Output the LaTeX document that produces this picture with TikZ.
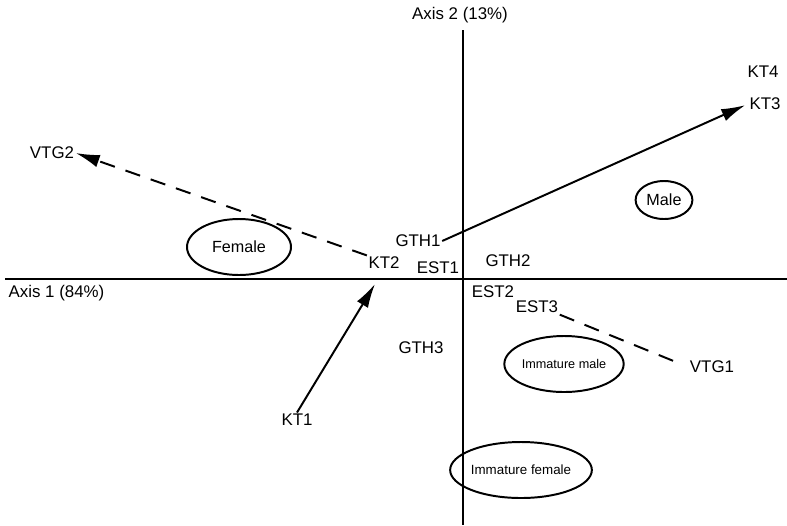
\documentclass[tikz,border=0pt]{standalone}
\usepackage{fontspec}
\setmainfont{Liberation Sans}
\usepackage{tikz}
\usetikzlibrary{arrows.meta,shapes.geometric}

\begin{document}
\begin{tikzpicture}[x=0.25mm, y=-0.25mm, font=\fontsize{12}{14}\selectfont,
    lbl/.style={inner sep=1pt},
    grp/.style={draw, ellipse, line width=1.4pt, inner sep=0pt},
    vec/.style={line width=1.4pt, -{Latex[length=6mm,width=3.2mm]}},
    dvec/.style={vec, dash pattern=on 11pt off 8pt}]
%		    \draw[help lines] (0,0) grid (787,525);
			\useasboundingbox (0,0) rectangle (787,525);
			% axes
			\node[lbl] (ax2) at (460,15) {Axis 2 (13\%)};
			\node[lbl, anchor=west] (ax1) at (7,293) {Axis 1 (84\%)};
			\coordinate (top) at (463,30);
			\coordinate (bot) at (463,525);
			\coordinate (lft) at (5,279);
			\coordinate (rgt) at (787,279);
			\draw[line width=1.5pt] (top) -- (bot);
			\draw[line width=1.5pt] (lft) -- (rgt);
			% variables
			\node[lbl] (vtg2) at (52,153) {VTG2};
			\node[lbl] (kt2) at (384,263) {KT2};
			\node[lbl] (est1) at (438,268) {EST1};
			\node[lbl] (gth1) at (418,241) {GTH1};
			\node[lbl] (kt4) at (763,72) {KT4};
			\node[lbl] (kt3) at (765,104) {KT3};
			\node[lbl] (gth2) at (508,261) {GTH2};
			\node[lbl] (est2) at (493,292) {EST2};
			\node[lbl] (est3) at (537,307) {EST3};
			\node[lbl] (gth3) at (421,348) {GTH3};
			\node[lbl] (vtg1) at (712,367) {VTG1};
			\node[lbl] (kt1) at (297,420) {KT1};
			\coordinate (kt1tip) at (375,284);
			% groups
			\node[grp, minimum width=26mm, minimum height=14mm, font=\fontsize{11.5}{13}\selectfont] (female) at (239,247) {Female};
			\node[grp, minimum width=14.2mm, minimum height=9.5mm, font=\fontsize{11.5}{13}\selectfont] (male) at (664,200) {Male};
			\node[grp, minimum width=28.5mm, minimum height=14mm, font=\fontsize{9}{11}\selectfont] (immale) at (564,364) {Immature male};
			\node[grp, minimum width=28.5mm, minimum height=14mm, font=\fontsize{9.5}{11}\selectfont] (imfemale) at (521,470) {Immature female};
			% vectors
			\draw[dvec] (kt2.north west) -- (vtg2.east);
			\draw[vec, shorten >=2pt] (gth1.east) -- (kt3.west);
			\draw[vec] (kt1.north) -- (kt1tip);
			\draw[line width=1.4pt, dash pattern=on 11pt off 8pt, shorten >=4pt] (est3.south east) -- (vtg1.west);
		\end{tikzpicture}
\end{document}
